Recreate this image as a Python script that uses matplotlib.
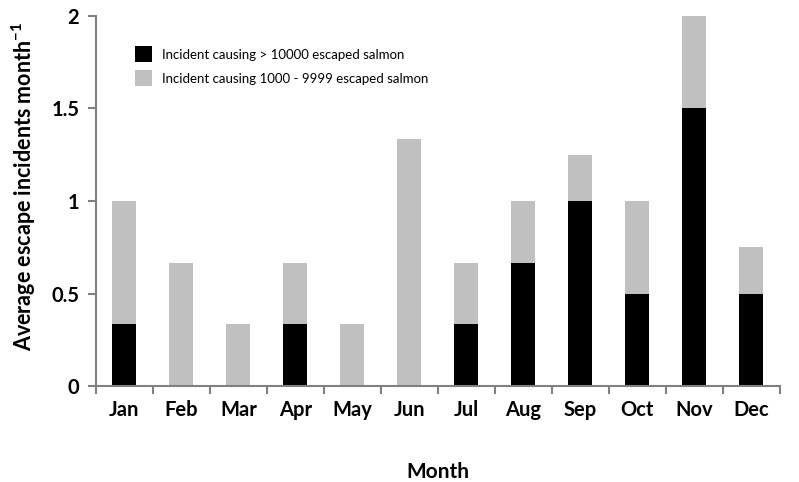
import numpy as np
import matplotlib.pyplot as plt

plt.rcParams['font.family'] = ['Lato', 'DejaVu Sans']

# Daten
months = ["Jan", "Feb", "Mar", "Apr", "May", "Jun", "Jul", "Aug", "Sep", "Oct", "Nov", "Dec"]
# Vorfaelle > 10000 entkommene Lachse
large = [0.333, 0, 0, 0.333, 0, 0, 0.333, 0.667, 1.0, 0.5, 1.5, 0.5]
# Vorfaelle 1000 - 9999 entkommene Lachse
medium = [0.667, 0.667, 0.333, 0.333, 0.333, 1.333, 0.333, 0.333, 0.25, 0.5, 0.5, 0.25]

fig = plt.figure(figsize=(7.99, 4.82), dpi=100)
ax = fig.add_axes([0.12, 0.199, 0.856, 0.768])

x = np.arange(len(months))
ax.bar(x, large, width=0.42, color="black", label="Incident causing > 10000 escaped salmon")
ax.bar(x, medium, width=0.42, bottom=large, color="#c0c0c0",
       label="Incident causing 1000 - 9999 escaped salmon")

ax.set_xlim(-0.5, len(months) - 0.5)
ax.set_ylim(0, 2)
ax.set_yticks([0, 0.5, 1, 1.5, 2])
ax.set_yticklabels(["0", "0.5", "1", "1.5", "2"])
ax.set_xticks(x)
ax.set_xticklabels(months)
ax.set_xticks(np.arange(-0.5, len(months)), minor=True)
ax.tick_params(axis="x", which="major", length=0, pad=10, labelsize=14.5)
ax.tick_params(axis="x", which="minor", length=6, color="#808080", width=1.5)
ax.tick_params(axis="y", length=6, color="#808080", width=1.5, labelsize=14.5, pad=6)
for lab in ax.get_xticklabels() + ax.get_yticklabels():
    lab.set_fontweight("bold")

for side in ["top", "right"]:
    ax.spines[side].set_visible(False)
for side in ["left", "bottom"]:
    ax.spines[side].set_color("#808080")
    ax.spines[side].set_linewidth(1.5)

ax.set_xlabel("Month", fontsize=15, fontweight="bold", labelpad=30)
ax.set_ylabel("Average escape incidents month$^{\\mathregular{-1}}$", fontsize=15.5,
              fontweight="bold", labelpad=4)
ax.yaxis.set_label_coords(-0.085, 0.54)

ax.legend(loc="upper left", bbox_to_anchor=(0.04, 0.95), frameon=False, fontsize=9.5,
          handlelength=1.3, handleheight=1.5, handletextpad=0.7, labelspacing=0.6)

fig.savefig("out.png", dpi=100)
